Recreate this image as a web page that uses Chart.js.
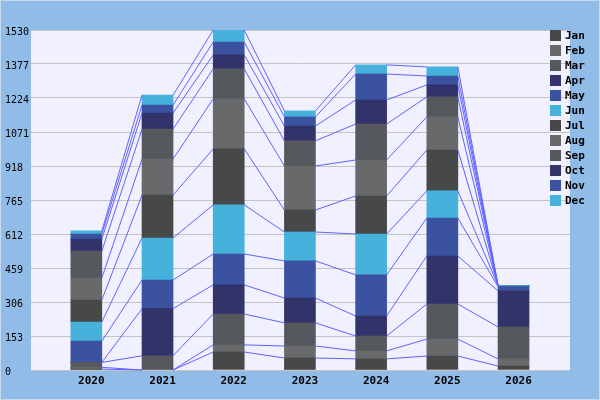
<!DOCTYPE html>
<html>
<head>
<meta charset="utf-8">
<script src="https://cdn.jsdelivr.net/npm/chart.js@4/dist/chart.umd.min.js"></script>
<style>
  html, body { margin: 0; padding: 0; background: #92bce8; }
  canvas { display: block; }
</style>
</head>
<body>
<canvas id="chart" width="600" height="400" style="width:600px;height:400px"></canvas>
<script>
const years = ['2020', '2021', '2022', '2023', '2024', '2025', '2026'];
const months = ['Jan', 'Feb', 'Mar', 'Apr', 'May', 'Jun', 'Jul', 'Aug', 'Sep', 'Oct', 'Nov', 'Dec'];
const yTicks = [0, 153, 306, 459, 612, 765, 918, 1071, 1224, 1377, 1530];

// one array per month, values per year
const jan = [4, 0, 81, 54, 50, 63, 18];
const feb = [8, 0, 32, 54, 36, 76, 32];
const mar = [22, 64, 139, 104, 67, 158, 144];
const apr = [0, 212, 131, 112, 90, 216, 162];
const may = [96, 129, 139, 167, 185, 171, 19];
const jun = [86, 189, 221, 130, 184, 122, 5];
const jul = [99, 193, 252, 99, 171, 184, 0];
const aug = [99, 162, 225, 198, 162, 149, 0];
const sep = [121, 135, 135, 113, 162, 90, 0];
const oct = [54, 72, 63, 67, 108, 54, 0];
const nov = [23, 36, 58, 41, 117, 40, 0];
const dec = [14, 45, 54, 27, 41, 41, 0];

const series = [jan, feb, mar, apr, may, jun, jul, aug, sep, oct, nov, dec];
const palette = ['#474948', '#67696b', '#55585c', '#33336c', '#3a52a0', '#46b1da'];

const datasets = series.map((vals, i) => ({
  label: months[i],
  data: vals.map((v, j) => ({ x: j, y: v })),
  backgroundColor: palette[i % 6],
  borderWidth: 0,
  barThickness: 31
}));

// frame + plot background
const background = {
  id: 'background',
  beforeDraw(chart) {
    const { ctx, chartArea: a } = chart;
    ctx.save();
    ctx.fillStyle = '#92bce8';
    ctx.fillRect(0, 0, chart.width, chart.height);
    ctx.strokeStyle = '#c4daf0';
    ctx.lineWidth = 1;
    ctx.strokeRect(0.5, 0.5, chart.width - 1, chart.height - 1);
    ctx.fillStyle = '#f0f0ff';
    ctx.fillRect(a.left, a.top, a.right - a.left, a.bottom - a.top);
    ctx.restore();
  }
};

// lines joining the top of each segment to the same segment on the next bar
const connectors = {
  id: 'connectors',
  afterDatasetsDraw(chart) {
    const ctx = chart.ctx;
    ctx.save();
    ctx.strokeStyle = '#6262ff';
    ctx.lineWidth = 1;
    chart.data.datasets.forEach((ds, i) => {
      const bars = chart.getDatasetMeta(i).data;
      for (let j = 0; j < bars.length - 1; j++) {
        const a = bars[j], b = bars[j + 1];
        ctx.beginPath();
        ctx.moveTo(a.x + a.width / 2, a.y);
        ctx.lineTo(b.x - b.width / 2, b.y);
        ctx.stroke();
      }
    });
    ctx.restore();
  }
};

const legendBox = {
  id: 'legendBox',
  afterDraw(chart) {
    const ctx = chart.ctx;
    ctx.save();
    ctx.font = 'bold 11px "DejaVu Sans Mono"';
    ctx.textBaseline = 'middle';
    ctx.textAlign = 'left';
    chart.data.datasets.forEach((ds, i) => {
      const y = 30 + i * 15;
      ctx.fillStyle = ds.backgroundColor;
      ctx.fillRect(550, y, 11, 11);
      ctx.fillStyle = '#000';
      ctx.fillText(ds.label, 565, y + 6);
    });
    ctx.restore();
  }
};

new Chart(document.getElementById('chart'), {
  type: 'bar',
  data: { datasets },
  options: {
    responsive: false,
    devicePixelRatio: 1,
    animation: false,
    layout: { padding: { left: 5, top: 30, right: 30, bottom: 0 } },
    plugins: {
      legend: { display: false },
      tooltip: { enabled: false }
    },
    scales: {
      x: {
        type: 'linear',
        stacked: true,
        offset: false,
        min: -0.777,
        max: 6.793,
        afterFit: s => { s.height = 30; },
        afterBuildTicks: s => { s.ticks = years.map((y, i) => ({ value: i })); },
        grid: { display: false, drawTicks: false, offset: false },
        border: { display: false },
        ticks: {
          callback: v => years[v],
          font: { family: 'DejaVu Sans Mono', size: 11, weight: 'bold' },
          color: '#000',
          padding: 5,
          labelOffset: 5,
          maxRotation: 0
        }
      },
      y: {
        stacked: true,
        min: 0,
        max: 1530,
        afterFit: s => { s.width = 26; },
        afterBuildTicks: s => { s.ticks = yTicks.map(v => ({ value: v })); },
        grid: { color: '#c4c4c4', lineWidth: 1, drawTicks: false },
        border: { display: false },
        ticks: {
          crossAlign: 'far',
          labelOffset: 2,
          font: { family: 'DejaVu Sans Mono', size: 10 },
          color: '#000',
          callback: v => String(v)
        }
      }
    }
  },
  plugins: [background, connectors, legendBox]
});
</script>
</body>
</html>
